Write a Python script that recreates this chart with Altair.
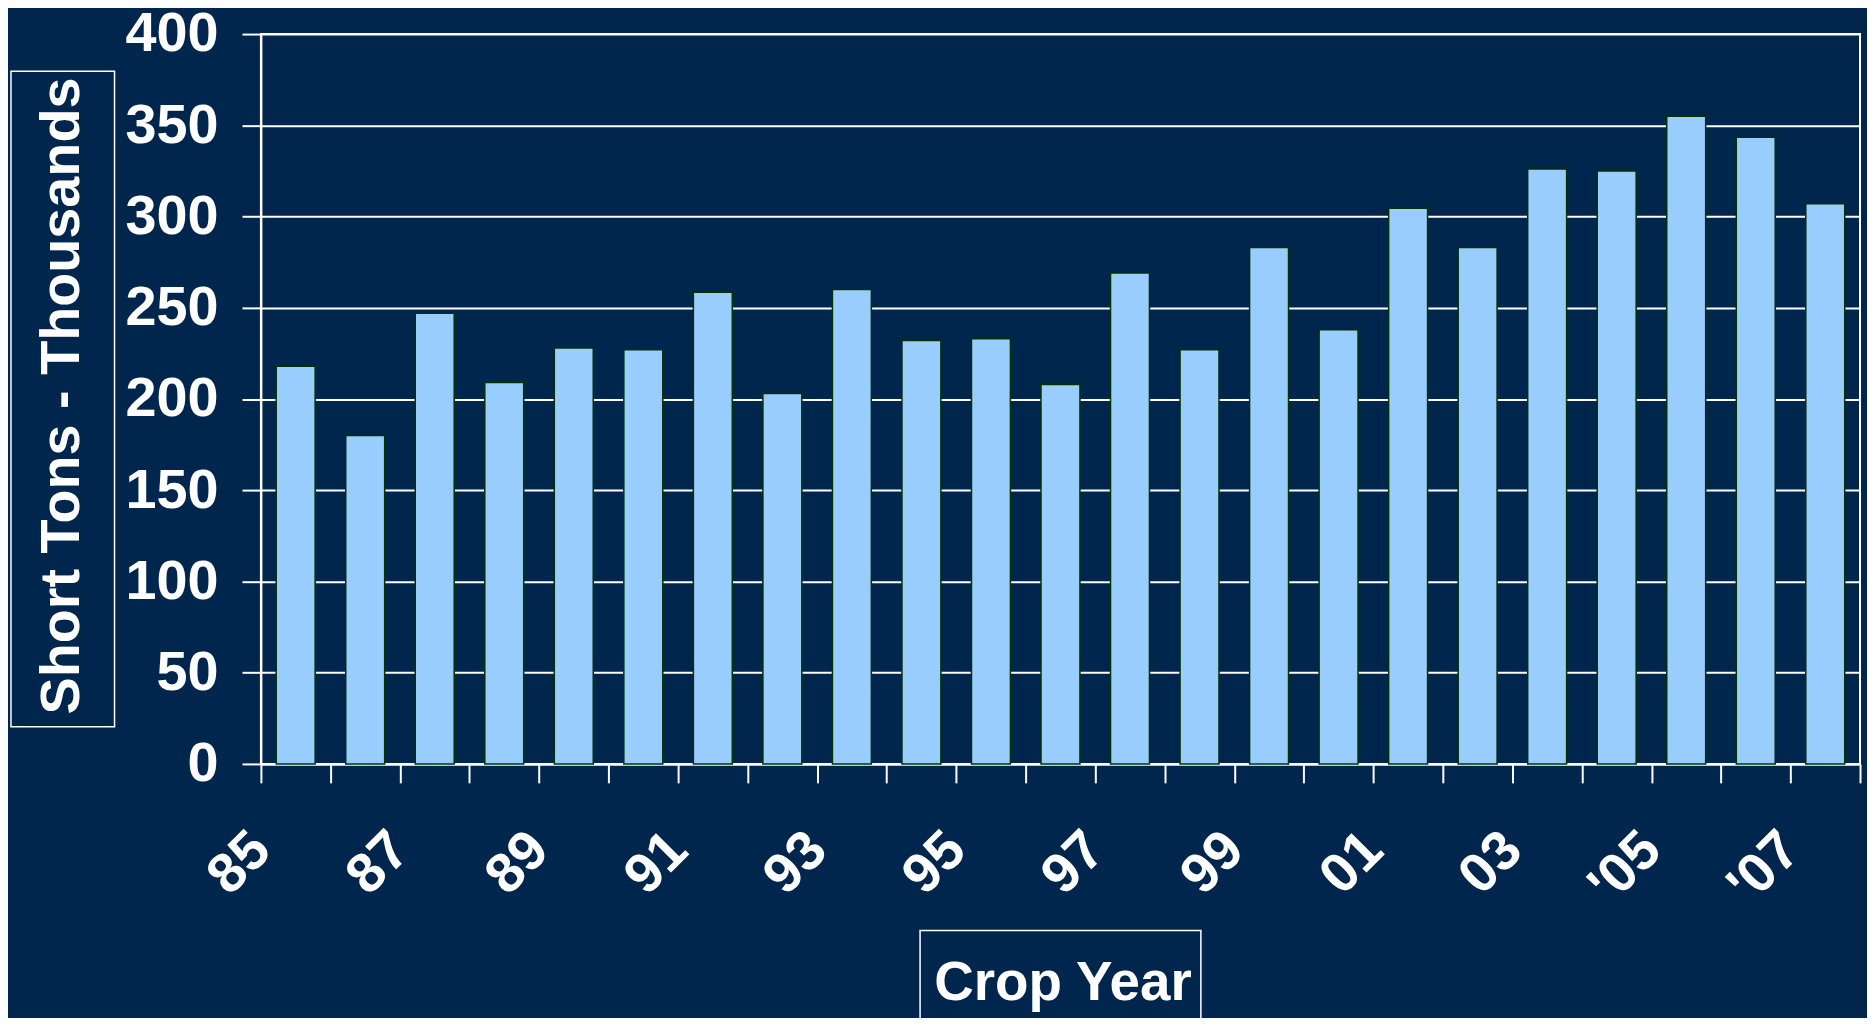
import json
import altair as alt
import pandas as pd

# ---- data ----
years = list(range(1985, 2008))
tons = [218, 180, 247, 209, 228, 227, 258.5, 203, 260, 232, 233, 208,
        269, 227, 283, 238, 304.5, 283, 326, 325, 355, 343.5, 307]
label_years = [1985, 1987, 1989, 1991, 1993, 1995, 1997, 1999, 2001, 2003, 2005, 2007]
label_texts = ["85", "87", "89", "91", "93", "95", "97", "99", "01", "03", "'05", "'07"]
tick_years = list(range(1985, 2009))
y_ticks = [0, 50, 100, 150, 200, 250, 300, 350, 400]
y_title = "Short Tons - Thousands"
x_title = "Crop Year"

BG = "#00264D"
FONT = "Liberation Sans"

df = pd.DataFrame({"year": years, "tons": tons})

ly = json.dumps(label_years)
lt = json.dumps(label_texts)
label_expr = f"indexof({ly}, datum.value) >= 0 ? {lt}[indexof({ly}, datum.value)] : ''"

bars = (
    alt.Chart(df)
    .transform_calculate(x0="datum.year + 0.22", x1="datum.year + 0.78")
    .mark_bar(fill="#99CCFF", stroke="#003300", strokeWidth=1.5)
    .encode(
        x=alt.X(
            "x0:Q",
            scale=alt.Scale(domain=[1985, 2008], nice=False, zero=False),
            axis=alt.Axis(
                values=tick_years,
                labelExpr=label_expr,
                title=None,
                grid=False,
                domainColor="white",
                domainWidth=2,
                tickColor="white",
                tickWidth=2,
                tickSize=19,
                labelColor="white",
                labelFont=FONT,
                labelFontSize=56,
                labelFontWeight="bold",
                labelAngle=-45,
                labelAlign="right",
                labelBaseline="middle",
                labelPadding=58,
                labelOverlap=False,
                labelFlush=False,
                labelBound=False,
            ),
        ),
        x2="x1:Q",
        y=alt.Y(
            "tons:Q",
            scale=alt.Scale(domain=[0, 400], nice=False),
            axis=alt.Axis(
                values=y_ticks,
                title=None,
                grid=True,
                gridColor="white",
                gridWidth=2,
                gridOpacity=1,
                domainColor="white",
                domainWidth=2,
                tickColor="white",
                tickWidth=2,
                tickSize=19,
                labelColor="white",
                labelFont=FONT,
                labelFontSize=56,
                labelFontWeight="bold",
                labelPadding=24,
                labelOverlap=False,
                labelFlush=False,
            ),
        ),
        y2=alt.datum(0),
    )
)

one = pd.DataFrame({"a": [0]})

ybox = alt.Chart(one).mark_rect(fill=BG, fillOpacity=0, stroke="white", strokeWidth=1.5).encode(
    x=alt.value(-251), x2=alt.value(-147), y=alt.value(37.4), y2=alt.value(695.7)
)
ytext = alt.Chart(pd.DataFrame({"t": [y_title]})).mark_text(
    angle=270, font=FONT, fontSize=56, fontWeight="bold", color="white",
    align="center", baseline="alphabetic"
).encode(text="t:N", x=alt.value(-182.5), y=alt.value(363.5))

xbox = alt.Chart(one).mark_rect(fill=BG, fillOpacity=0, stroke="white", strokeWidth=1.5).encode(
    x=alt.value(662), x2=alt.value(944), y=alt.value(900.3), y2=alt.value(1100)
)
xtext = alt.Chart(pd.DataFrame({"t": [x_title]})).mark_text(
    font=FONT, fontSize=55, fontWeight="bold", color="white",
    align="center", baseline="alphabetic"
).encode(text="t:N", x=alt.value(805.5), y=alt.value(969.7))

chart = (
    alt.layer(bars, ybox, ytext, xbox, xtext)
    .properties(
        width=1606,
        height=733,
        padding={"left": 254, "top": 24, "right": 7, "bottom": 253},
        autosize=alt.AutoSizeParams(type="none"),
        background=BG,
    )
    .configure_view(stroke="white", strokeWidth=2)
)

chart.save("out.html", embed_options={"renderer": "svg", "actions": False})
